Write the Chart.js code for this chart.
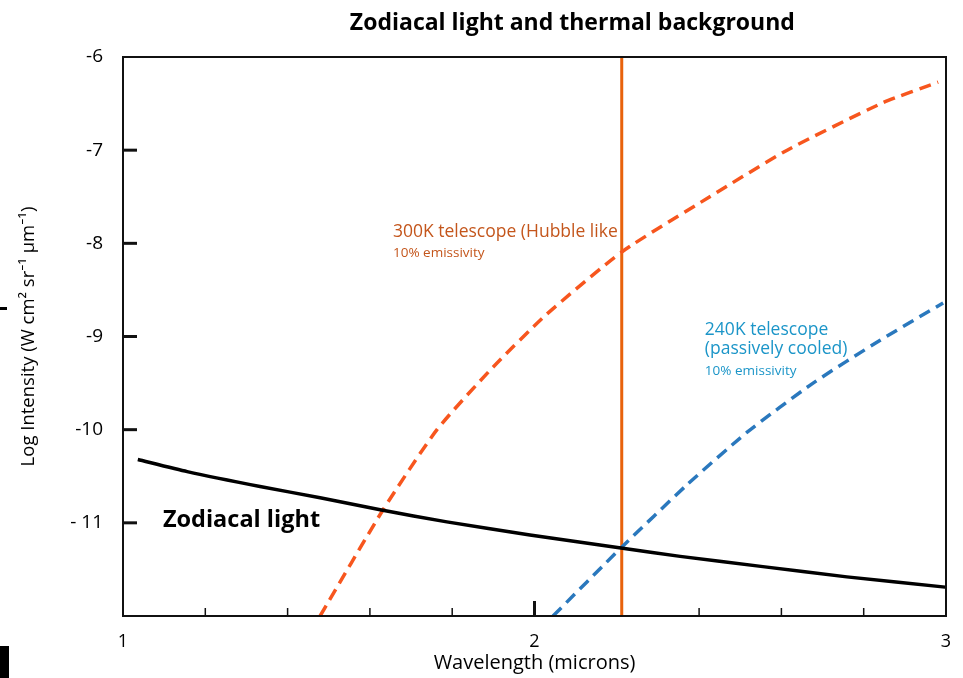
<!DOCTYPE html>
<html>
<head>
<meta charset="utf-8">
<script src="https://cdn.jsdelivr.net/npm/chart.js@4/dist/chart.umd.min.js"></script>
<style>
  html, body { margin: 0; padding: 0; background: #fff; }
  #wrap { position: relative; width: 963px; height: 678px; }
  canvas { display: block; }
  .edge-block { position: absolute; left: 0; top: 646px; width: 9px; height: 32px; background: #000; }
  .edge-bar { position: absolute; left: 0; top: 307px; width: 7px; height: 3px; background: #000; }
</style>
</head>
<body>
<div id="wrap">
  <canvas id="chart" width="963" height="678"></canvas>
  <div class="edge-block"></div>
  <div class="edge-bar"></div>
</div>
<script>
// Wavelength axis (microns) and log-intensity axis
const wavelengthLabels = [1, 2, 3];
const wavelengthMinorTicks = [1.2, 1.4, 1.6, 1.8, 2.4, 2.6, 2.8];
const wavelengthMajorTick = 2;
const intensityTickMarks = [-7, -8, -9, -10, -11];

// Zodiacal light
const zodiacalWavelength = [1.036, 1.156, 1.333, 1.479, 1.625, 1.787, 1.989, 2.210, 2.354, 2.555, 2.759, 2.998];
const zodiacalIntensity  = [-10.32, -10.45, -10.61, -10.73, -10.86, -10.99, -11.13, -11.27, -11.36, -11.47, -11.58, -11.69];

// 300K telescope, 10% emissivity
const warmWavelength = [1.479, 1.632, 1.763, 1.899, 2.030, 2.213, 2.426, 2.614, 2.847, 2.981];
const warmIntensity  = [-12.0, -10.86, -10.00, -9.33, -8.76, -8.09, -7.50, -7.00, -6.49, -6.27];

// 240K telescope (passively cooled), 10% emissivity
const cooledWavelength = [2.045, 2.210, 2.371, 2.516, 2.677, 2.840, 2.993];
const cooledIntensity  = [-12.0, -11.27, -10.59, -10.03, -9.50, -9.04, -8.64];

// Vertical marker wavelength
const markerWavelength = 2.212;

const FONT = '"Open Sans", "Noto Sans", sans-serif';
const TITLE = 'Zodiacal light and thermal background';

const pairs = (xs, ys) => xs.map((v, i) => ({ x: v, y: ys[i] }));

// Curve annotations, anchored in data coordinates
const notes = [
  { x: 1.656, y: -7.93, text: '300K telescope (Hubble like', size: 17.5, weight: 'normal', color: '#c4561c' },
  { x: 1.656, y: -8.15, text: '10% emissivity', size: 13.5, weight: 'normal', color: '#c4561c' },
  { x: 2.414, y: -8.98, text: '240K telescope', size: 17.5, weight: 'normal', color: '#1b95c8' },
  { x: 2.414, y: -9.19, text: '(passively cooled)', size: 17.5, weight: 'normal', color: '#1b95c8' },
  { x: 2.414, y: -9.41, text: '10% emissivity', size: 13.5, weight: 'normal', color: '#1b95c8' },
  { x: 1.097, y: -11.05, text: 'Zodiacal light', size: 23.5, weight: 'bold', color: '#000000' }
];

const notesPlugin = {
  id: 'curveNotes',
  beforeDatasetsDraw(chart) {
    const { ctx, scales: { x, y } } = chart;
    ctx.save();
    ctx.textAlign = 'left';
    ctx.textBaseline = 'alphabetic';
    notes.forEach(n => {
      ctx.font = `${n.weight} ${n.size}px ${FONT}`;
      ctx.fillStyle = n.color;
      ctx.fillText(n.text, x.getPixelForValue(n.x), y.getPixelForValue(n.y));
    });
    ctx.restore();
  }
};

// Heading, centred over the right-hand part of the plot
const headingPlugin = {
  id: 'heading',
  afterDraw(chart) {
    const { ctx, chartArea: a } = chart;
    ctx.save();
    ctx.font = `bold 23px ${FONT}`;
    ctx.fillStyle = '#000';
    ctx.textAlign = 'center';
    ctx.textBaseline = 'middle';
    ctx.fillText(TITLE, a.left + 0.546 * (a.right - a.left), a.top - 34);
    ctx.restore();
  }
};

// Plot frame and inward tick marks
const framePlugin = {
  id: 'frameTicks',
  afterDraw(chart) {
    const { ctx, chartArea: a, scales: { x, y } } = chart;
    ctx.save();
    ctx.strokeStyle = '#111';
    ctx.lineWidth = 2;
    ctx.strokeRect(a.left, a.top, a.right - a.left, a.bottom - a.top);
    ctx.lineCap = 'butt';
    ctx.lineWidth = 3;
    intensityTickMarks.forEach(v => {
      const py = y.getPixelForValue(v);
      ctx.beginPath(); ctx.moveTo(a.left, py); ctx.lineTo(a.left + 14, py); ctx.stroke();
    });
    ctx.lineWidth = 1.5;
    wavelengthMinorTicks.forEach(v => {
      const px = x.getPixelForValue(v);
      ctx.beginPath(); ctx.moveTo(px, a.bottom); ctx.lineTo(px, a.bottom - 8); ctx.stroke();
    });
    ctx.lineWidth = 3;
    const pm = x.getPixelForValue(wavelengthMajorTick);
    ctx.beginPath(); ctx.moveTo(pm, a.bottom); ctx.lineTo(pm, a.bottom - 15); ctx.stroke();
    ctx.restore();
  }
};

const lineStyle = { showLine: true, pointRadius: 0, pointHoverRadius: 0, tension: 0.2, fill: false };

new Chart(document.getElementById('chart'), {
  type: 'scatter',
  data: {
    datasets: [
      Object.assign({ label: 'Zodiacal light', data: pairs(zodiacalWavelength, zodiacalIntensity),
        borderColor: '#000', borderWidth: 3.5 }, lineStyle),
      Object.assign({ label: '300K telescope', data: pairs(warmWavelength, warmIntensity),
        borderColor: '#f7561e', borderWidth: 3.5, borderDash: [12, 7] }, lineStyle),
      Object.assign({ label: '240K telescope', data: pairs(cooledWavelength, cooledIntensity),
        borderColor: '#2a78bd', borderWidth: 3.5, borderDash: [12, 7] }, lineStyle),
      Object.assign({ label: 'marker', data: [{ x: markerWavelength, y: -6 }, { x: markerWavelength, y: -12 }],
        borderColor: '#e8620c', borderWidth: 3 }, lineStyle, { tension: 0 })
    ]
  },
  options: {
    responsive: false,
    devicePixelRatio: 1,
    animation: false,
    events: [],
    layout: { padding: { left: 0, right: 17, top: 57, bottom: 0 } },
    plugins: {
      legend: { display: false },
      tooltip: { enabled: false },
      title: { display: false }
    },
    scales: {
      x: {
        type: 'linear',
        min: 1, max: 3,
        afterBuildTicks: s => { s.ticks = wavelengthLabels.map(v => ({ value: v })); },
        ticks: { color: '#000', font: { family: FONT, size: 18 }, padding: 15, autoSkip: false,
          callback: v => String(v) },
        grid: { display: false, drawTicks: false },
        border: { display: false },
        title: { display: true, text: 'Wavelength (microns)', color: '#000',
          font: { family: FONT, size: 20 }, padding: { top: 0, bottom: 3 } },
        afterFit: s => { s.height = 62; s.paddingLeft = 0; s.paddingRight = 0; }
      },
      y: {
        type: 'linear',
        min: -12, max: -6,
        ticks: { stepSize: 1, color: '#000', font: { family: FONT, size: 19 }, padding: 20,
          callback: v => v === -12 ? '' : (v === -11 ? '- 11' : String(v)) },
        grid: { display: false, drawTicks: false },
        border: { display: false },
        title: { display: true, text: 'Log Intensity (W cm² sr⁻¹ µm⁻¹)', color: '#000',
          font: { family: FONT, size: 18.5 }, padding: { top: 18, bottom: 0 } },
        afterFit: s => { s.width = 123; }
      }
    }
  },
  plugins: [notesPlugin, framePlugin, headingPlugin]
});
</script>
</body>
</html>
